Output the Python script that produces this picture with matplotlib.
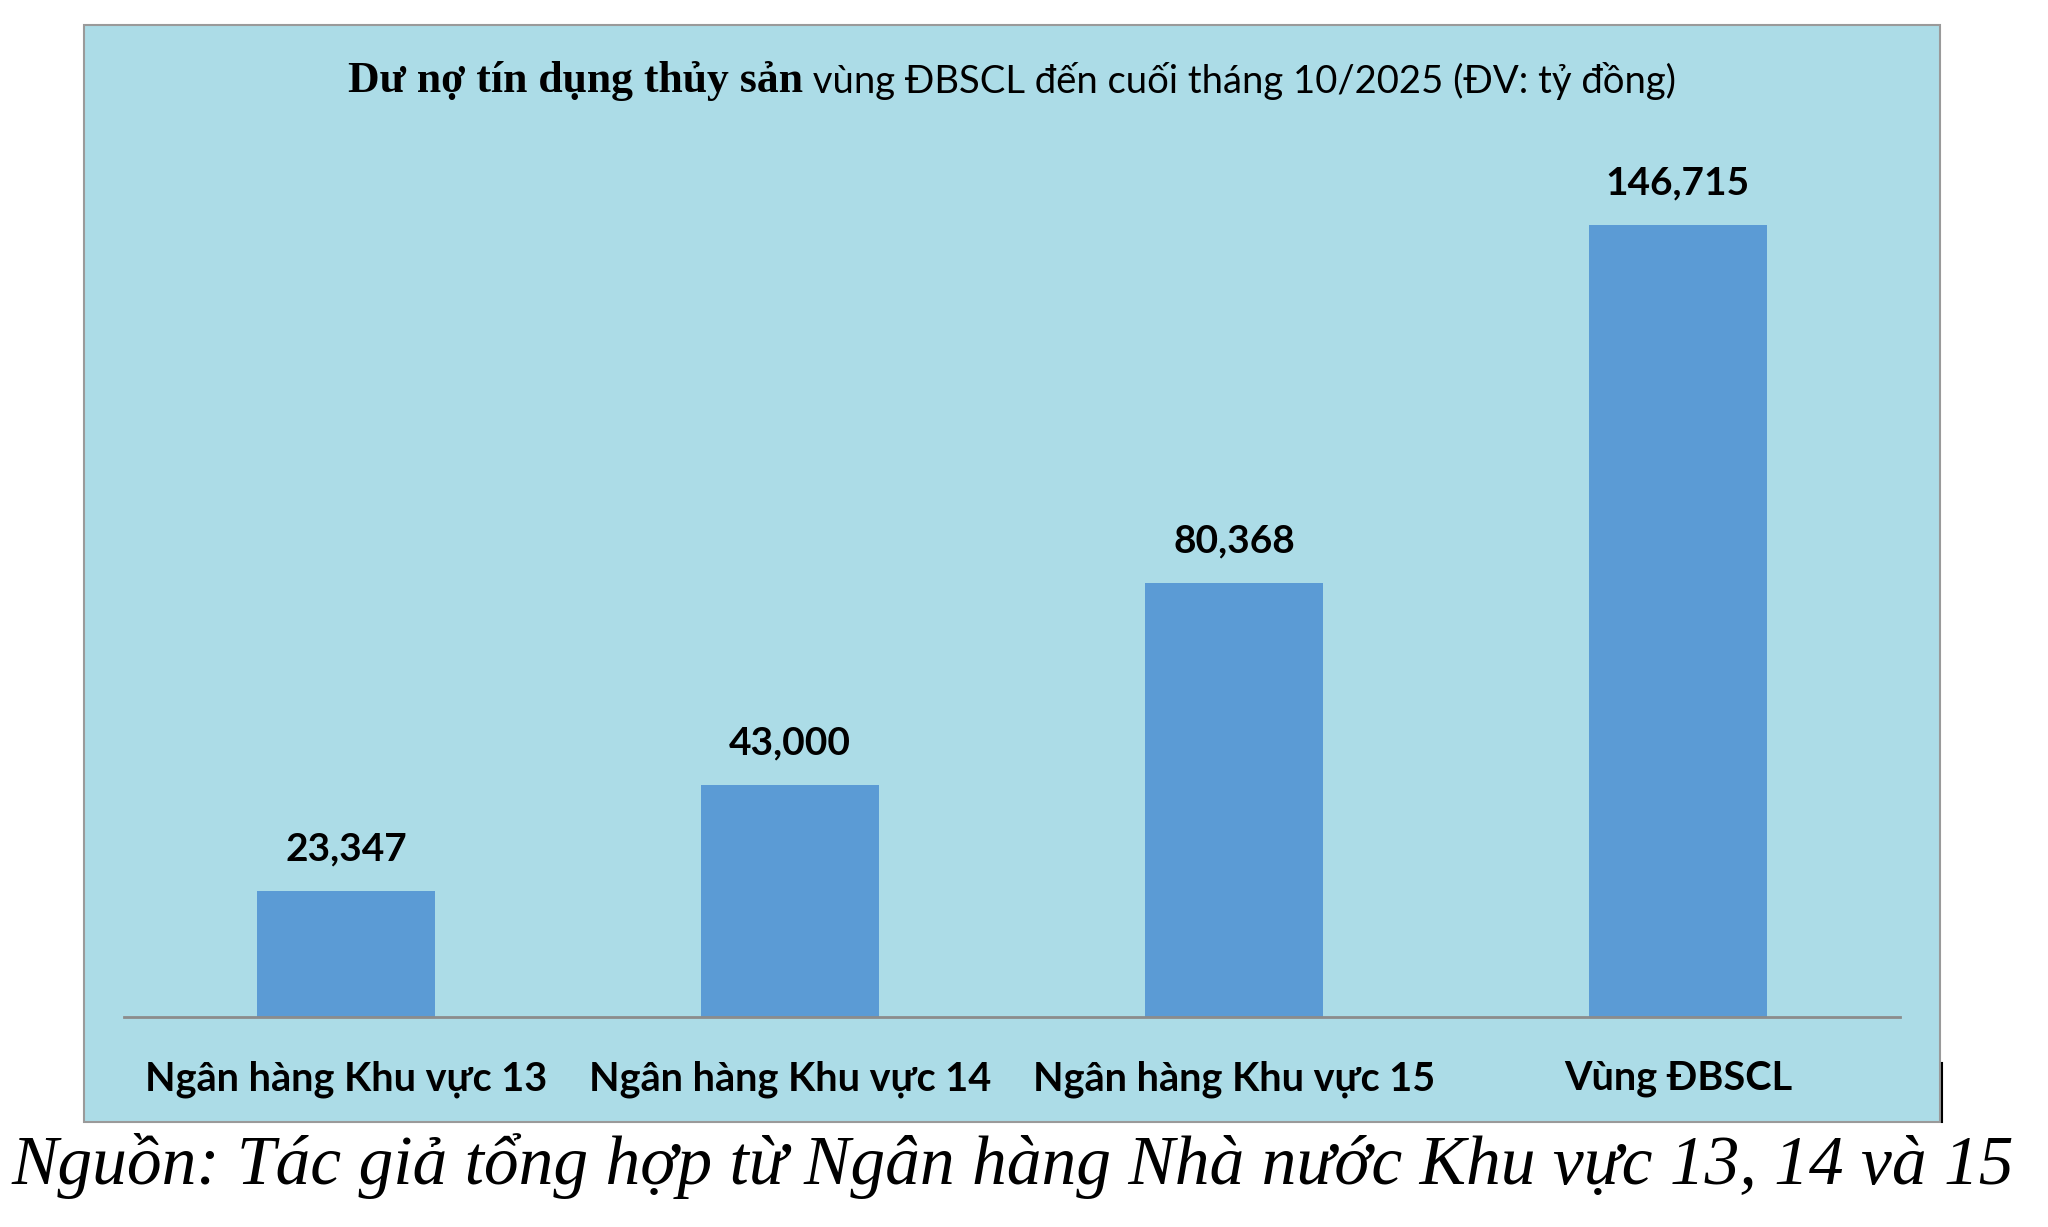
import matplotlib
matplotlib.use("Agg")
import matplotlib.pyplot as plt
from matplotlib.patches import Rectangle
from matplotlib.lines import Line2D

# du lieu
categories = ["Ngân hàng Khu vực 13", "Ngân hàng Khu vực 14", "Ngân hàng Khu vực 15", "Vùng ĐBSCL"]
values = [23347, 43000, 80368, 146715]
value_labels = ["23,347", "43,000", "80,368", "146,715"]

title_bold = "Dư nợ tín dụng thủy sản"
title_rest = " vùng ĐBSCL đến cuối tháng 10/2025 (ĐV: tỷ đồng)"
source = "Nguồn: Tác giả tổng hợp từ Ngân hàng Nhà nước Khu vực 13, 14 và 15"

sans = ["Lato", "DejaVu Sans"]
serif = ["Liberation Serif", "DejaVu Serif"]
bg = "#acdce7"
bar_color = "#5b9bd5"

fig = plt.figure(figsize=(20.48, 12.27), dpi=100)
fig.patch.set_facecolor("white")

# khung nen
fig.patches.append(Rectangle((0.041, 0.0856), 0.9062, 0.894, transform=fig.transFigure,
                             facecolor=bg, edgecolor="#9a9a9a", linewidth=1.5, zorder=-1))
fig.add_artist(Line2D([0.9482, 0.9482], [0.0856, 0.134], transform=fig.transFigure,
                      color="black", linewidth=1.5))

ax = fig.add_axes([0.0605, 0.1711, 0.8672, 0.7042])
ax.set_zorder(2)
ax.set_facecolor("none")
x = range(len(categories))
bars = ax.bar(x, values, width=0.4, color=bar_color, zorder=2)
ax.set_xlim(-0.5, 3.5)
ax.set_ylim(0, 160000)

for i, b in enumerate(bars):
    ax.text(b.get_x() + b.get_width() / 2, values[i] + 4500, value_labels[i],
            ha="center", va="bottom", fontsize=28, fontweight="bold", family=sans)

ax.set_xticks(list(x))
ax.set_xticklabels(categories, fontsize=28.5, fontweight="bold", family=sans)
ax.tick_params(axis="x", length=0, pad=31)
ax.set_yticks([])
for s in ["top", "right", "left"]:
    ax.spines[s].set_visible(False)
ax.spines["bottom"].set_color("#8c8c8c")
ax.spines["bottom"].set_linewidth(2)

# tieu de: phan dau dam (Times), phan sau thuong
fig.canvas.draw()
r = fig.canvas.get_renderer()
t1 = fig.text(0, 0.934, title_bold, fontsize=31.5, fontweight="bold", family=serif, va="center")
t2 = fig.text(0, 0.934, title_rest, fontsize=27.5, family=sans, va="center")
w1 = t1.get_window_extent(r).width / fig.bbox.width
w2 = t2.get_window_extent(r).width / fig.bbox.width
x0 = 0.494 - (w1 + w2) / 2
t1.set_x(x0)
t2.set_x(x0 + w1)

fig.text(0.4946, 0.05, source, fontsize=50, style="italic", family=serif,
         ha="center", va="center")

fig.savefig("out.png", dpi=100)
